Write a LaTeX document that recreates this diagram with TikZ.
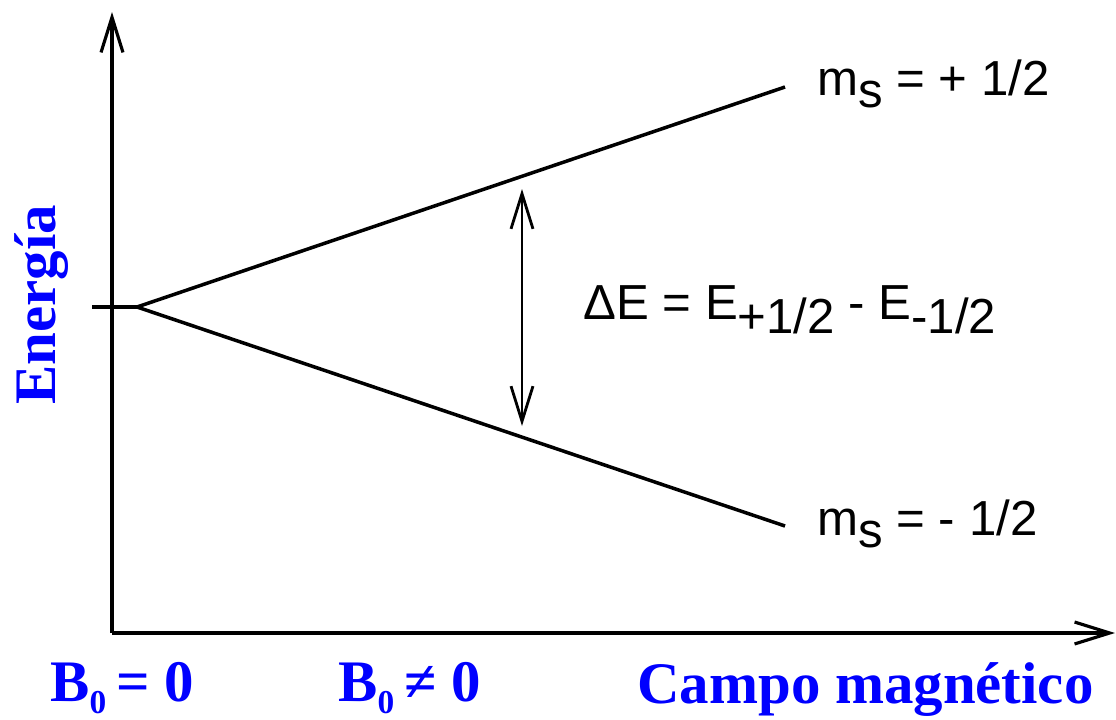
\documentclass[tikz,border=0pt]{standalone}
\usepackage{fontspec}
\setmainfont{Liberation Serif}
\newfontfamily\labelsans{Liberation Sans}
\usetikzlibrary{arrows.meta}
\definecolor{labelblue}{RGB}{0,0,255}
\tikzset{
  axisline/.style={line width=2pt, line cap=butt},
  barbtip/.style={-{Straight Barb[length=20pt,width=12.5pt,line width=1.8pt]}},
  bothtip/.style={line width=1.7pt,{Straight Barb[length=20pt,width=12.5pt,line width=1.6pt]}-{Straight Barb[length=20pt,width=12.5pt,line width=1.6pt]}},
  levelline/.style={line width=2pt},
  sanslabel/.style={inner sep=0pt, anchor=base west, font=\labelsans\fontsize{28pt}{34pt}\selectfont},
  bluelabel/.style={inner sep=0pt, anchor=base west, text=labelblue, font=\bfseries\fontsize{33.5pt}{40pt}\selectfont}
}
\begin{document}
\begin{tikzpicture}[x=0.02cm,y=-0.02cm]
\useasboundingbox (0,0) rectangle (1116,720);
% axes
\coordinate (origin) at (112,633);
\coordinate (ytop) at (112,12);
\coordinate (xend) at (1115,633);
\draw[axisline,barbtip] (origin) -- (ytop);
\draw[axisline,barbtip] (origin) -- (xend);
% energy levels
\coordinate (tickstart) at (92,307);
\coordinate (split) at (137,307);
\coordinate (upend) at (785,87);
\coordinate (lowend) at (785,526);
\draw[levelline] (tickstart) -- (split);
\draw[levelline] (split) -- (upend);
\draw[levelline] (split) -- (lowend);
% delta E arrow
\coordinate (dtop) at (522,189);
\coordinate (dbot) at (522,426);
\draw[bothtip] (dtop) -- (dbot);
% labels
\node[sanslabel] (msplus) at (817,95) {m\raisebox{-7pt}{s} = + 1/2};
\node[sanslabel] (msminus) at (817,535) {m\raisebox{-7pt}{s} = - 1/2};
\node[sanslabel] (deltaE) at (583,319) {ΔE = E\raisebox{-8pt}{+1/2} - E\raisebox{-8pt}{-1/2}};
\node[bluelabel] (bzero) at (50,701) {B\raisebox{-7pt}{\fontsize{19pt}{22pt}\selectfont 0}\,= 0};
\node[bluelabel] (bnonzero) at (338,701) {B\raisebox{-7pt}{\fontsize{19pt}{22pt}\selectfont 0}\,≠ 0};
\node[bluelabel] (campo) at (637,703) {Campo magnético};
\node[bluelabel, rotate=90] (energia) at (55,405) {Energía};
\end{tikzpicture}
\end{document}
